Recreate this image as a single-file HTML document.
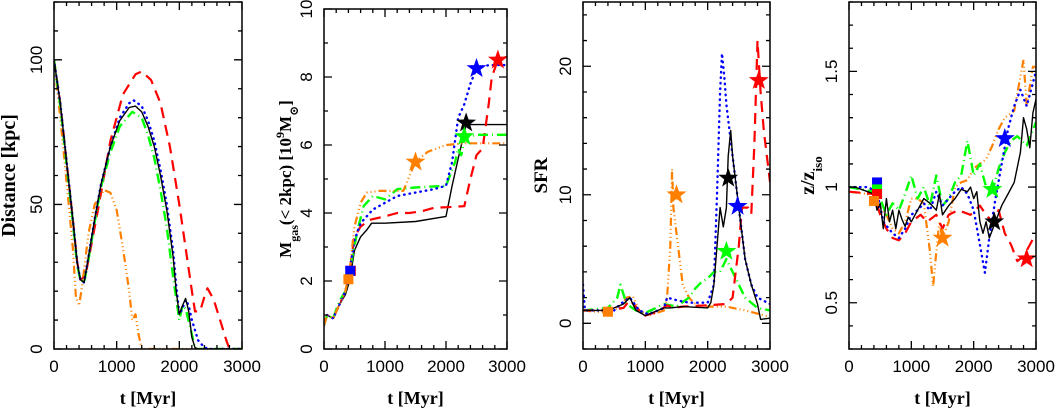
<!DOCTYPE html>
<html><head><meta charset="utf-8">
<style>
html,body{margin:0;padding:0;background:#fff;}
svg{display:block;}
text{font-family:"Liberation Serif","DejaVu Serif",serif;fill:#000;}
text.tk{font-family:"Liberation Sans","DejaVu Sans",sans-serif;}
</style></head>
<body>
<svg id="fig" width="1057" height="413" viewBox="0 0 1057 413" xmlns="http://www.w3.org/2000/svg"></svg>
<script>
// ---------- data ----------
const p1_black_t=[0,100,200,300,370,420,480,550,650,750,900,1050,1200,1300,1400,1500,1600,1700,1800,1900,1950,2000,2050,2100,2150,2200,2250,2300,3000];
const p1_black_y=[100,85,65,45,30,24,23,32,45,57,70,79,83.5,84,82,77,70,60,48,32,20,12,15,17.5,13,4,0.5,0,0];
const p1_blue_t=[0,100,200,300,370,420,480,550,650,750,900,1050,1200,1270,1400,1500,1600,1700,1800,1900,1950,2000,2050,2100,2150,2200,2300,2400,2500,3000];
const p1_blue_y=[100,85,65,45,30,24,23,32,45,57,70,80,85,86,84,79,72,62,50,34,22,12,14,17,15,10,3,0.5,0,0];
const p1_green_t=[0,100,200,300,370,420,480,550,650,750,900,1050,1250,1400,1500,1600,1700,1800,1900,2000,2050,2100,2200,2250,3000];
const p1_green_y=[100,84,64,44,29,24,23,31,44,56,68,77,82,80,74,66,55,42,25,10,15,14,5,0,0];
const p1_red_t=[0,100,200,300,370,420,500,700,900,1100,1300,1400,1550,1700,1850,2000,2100,2200,2250,2330,2400,2450,2550,2650,2750,2800,3000];
const p1_red_y=[100,85,65,45,30,24,25,48,72,88,95,96,93,85,70,50,35,20,13,13,18,21,17,10,3,0,0];
const p1_orange_t=[0,100,200,300,350,400,450,550,650,800,900,1000,1100,1200,1250,1300,1350,1400,3000];
const p1_orange_y=[100,80,58,35,18,15,22,40,50,55,54,48,35,20,10,12,5,0,0];
const p2_black_t=[0,50,150,250,350,420,500,600,700,780,1000,1500,2000,2100,2200,2330,3000];
const p2_black_y=[0.7,1.0,0.9,1.3,1.6,2.0,2.9,3.3,3.5,3.7,3.7,3.75,3.9,4.8,5.6,6.6,6.6];
const p2_red_t=[0,50,150,250,350,420,500,600,750,1000,1200,1400,1600,1800,2300,2400,2500,2600,2700,2750,2850,3000];
const p2_red_y=[0.7,1.0,0.9,1.3,1.7,2.3,3.3,3.6,3.8,3.9,4.0,4.0,4.05,4.15,4.2,5.0,5.7,5.9,7.2,8.0,8.5,8.6];
const p2_blue_t=[0,50,150,250,350,420,500,600,800,1000,1200,1500,1800,2000,2100,2200,2300,2400,2500,2700,3000];
const p2_blue_y=[0.7,1.0,0.9,1.3,1.7,2.3,3.2,3.7,4.1,4.3,4.5,4.6,4.7,4.8,5.5,6.8,7.2,7.8,8.25,8.35,8.35];
const p2_green_t=[0,50,150,250,350,420,550,650,800,1000,1200,1500,2000,2150,2200,2250,2300,2500,3000];
const p2_green_y=[0.7,1.0,0.9,1.4,1.7,2.3,3.5,4.2,4.5,4.4,4.7,4.75,4.8,5.5,5.9,5.7,6.2,6.3,6.3];
const p2_orange_t=[0,50,150,250,350,420,500,600,700,900,1300,1450,1500,1700,2000,2300,3000];
const p2_orange_y=[0.7,1.0,0.9,1.3,1.7,2.3,3.6,4.3,4.6,4.65,4.65,5.3,5.5,5.8,6.0,6.05,6.05];
const p3_black_t=[0,400,500,650,750,850,1000,1100,1300,1400,1600,2000,2050,2100,2150,2200,2250,2300,2330,2370,2400,2500,2600,2700,2800,2850,3000];
const p3_black_y=[1,1,1.2,1.5,2,1,0.6,0.8,1.2,1.2,1.3,1.2,1.6,3,6,9,7.5,9,13,15,13,9,5,3,1.5,0.3,0.4];
const p3_blue_t=[0,30,400,500,600,750,900,1050,1300,1350,1500,1700,2000,2100,2150,2200,2230,2270,2300,2400,2500,2600,2700,2800,3000];
const p3_blue_y=[3,1,1,1,1.5,2,1,0.7,1.2,2,1.8,1.6,1.6,3,10,18,21,19,17,13,9,5,3,2,1.5];
const p3_red_t=[0,400,650,750,900,1000,1200,1350,1450,1600,2000,2300,2400,2500,2550,2650,2700,2750,2800,2850,2900,3000];
const p3_red_y=[1,1,1.2,1.8,1,0.6,0.9,1.4,1.2,1.3,1.4,1.5,2,6,9,9,8.5,14,22,18,15,11];
const p3_green_t=[0,400,550,600,700,850,1000,1300,1500,1700,1800,1900,2000,2100,2200,2300,2400,2500,2600,2800,3000];
const p3_green_y=[1,1.2,2,3,1.5,1,0.8,1.5,1.3,2,2.7,3.2,3.5,4,4,5,4,3,2,1.2,1];
const p3_orange_t=[0,400,600,700,800,900,1050,1300,1350,1400,1430,1450,1500,1600,1700,1800,2000,2300,2600,3000];
const p3_orange_y=[1,0.8,1.3,2,2.1,1,0.6,1,2,6,12,9,7,3,2,1.5,1.3,1.3,1,0.5];
const p4_black_t=[0,100,300,400,450,500,550,600,650,700,750,800,850,900,950,1000,1100,1200,1300,1400,1450,1500,1600,1700,1800,1900,1950,2000,2050,2100,2150,2200,2250,2350,2450,2550,2650,2750,2800,2850,2900,2950,3000];
const p4_black_y=[1,1,0.98,0.97,0.9,0.93,0.82,0.95,0.85,0.9,0.82,0.9,0.86,0.83,0.87,0.85,0.9,0.95,0.93,0.9,0.97,0.88,0.92,0.95,0.99,0.98,1.0,0.95,0.98,0.85,0.8,0.85,0.78,0.85,0.92,0.97,1.02,1.15,1.3,1.25,1.17,1.32,1.38];
const p4_blue_t=[0,300,450,550,700,800,900,1000,1100,1200,1300,1400,1500,1600,1700,1800,1900,2000,2100,2180,2250,2350,2450,2550,2650,2750,2850,2950,3000];
const p4_blue_y=[1,1,0.98,0.85,0.8,0.78,0.82,0.88,0.9,0.93,0.9,0.98,0.92,0.95,0.98,1.0,0.97,0.9,0.75,0.63,0.78,0.95,1.1,1.25,1.35,1.42,1.35,1.45,1.5];
const p4_red_t=[0,400,500,600,700,800,900,1000,1150,1250,1400,1500,1600,1750,1950,2100,2200,2300,2400,2500,2600,2700,2800,2900,3000];
const p4_red_y=[0.98,0.97,0.88,0.82,0.78,0.77,0.8,0.85,0.88,0.85,0.88,0.82,0.88,0.9,0.88,0.92,0.88,0.85,0.9,0.8,0.75,0.68,0.7,0.75,0.8];
const p4_green_t=[0,400,500,600,700,800,900,1000,1100,1200,1300,1400,1500,1600,1700,1800,1900,2000,2100,2200,2300,2400,2500,2600,2700,2850,3000];
const p4_green_y=[1,0.98,0.95,0.88,0.93,0.9,0.97,1.05,0.95,1.0,0.92,1.05,0.92,0.95,1.02,1.05,1.2,1.05,1.1,1.0,0.98,1.08,1.15,1.2,1.22,1.18,1.28];
const p4_orange_t=[0,300,450,600,700,800,900,1000,1100,1200,1300,1350,1400,1450,1500,1600,1700,1800,1900,2000,2100,2200,2300,2400,2500,2650,2800,2850,2950,3000];
const p4_orange_y=[0.98,0.97,0.93,0.88,0.82,0.8,0.85,0.95,0.95,0.93,0.72,0.57,0.72,0.85,0.78,0.85,1.0,1.02,1.03,1.08,1.1,1.12,1.18,1.25,1.3,1.33,1.55,1.35,1.52,1.52];
const p2_stars_t=[1500,2500,2330,2300,2850];
const p2_stars_y=[5.5,8.25,6.65,6.25,8.5];
const p2_sq_t=[440,430,400];
const p2_sq_y=[2.3,2.3,2.05];
const p3_stars_t=[1500,2330,2480,2300,2820];
const p3_stars_y=[10,11.3,9.1,5.6,18.9];
const p3_sq_t=[400];
const p3_sq_y=[0.9];
const p4_stars_t=[2500,2300,2330,1500,2850];
const p4_stars_y=[1.21,0.99,0.85,0.78,0.69];
const p4_sq_t=[450,450,450,400];
const p4_sq_y=[1.02,0.99,0.97,0.94];
const xTicks=[0,1000,2000,3000];
const xTickLabels=["0","1000","2000","3000"];
const p1_yTicks=[0,50,100]; const p1_yLabels=["0","50","100"];
const p2_yTicks=[0,2,4,6,8,10]; const p2_yLabels=["0","2","4","6","8","10"];
const p3_yTicks=[0,10,20]; const p3_yLabels=["0","10","20"];
const p4_yTicks=[0.5,1,1.5]; const p4_yLabels=["0.5","1","1.5"];

const NS="http://www.w3.org/2000/svg";
const svg=document.getElementById('fig');
function mk(tag,attrs,parent){const e=document.createElementNS(NS,tag);for(const k in attrs)e.setAttribute(k,attrs[k]);(parent||svg).appendChild(e);return e;}
const STY={
 black:{c:"#000",w:1.4,d:""},
 red:{c:"#ff0000",w:2.2,d:"11,7"},
 blue:{c:"#0000ff",w:2.4,d:"0.5,5"},
 green:{c:"#00ff00",w:2.4,d:"10,4,1,4"},
 orange:{c:"#ff8000",w:2.2,d:"8,3,1,3,1,3,1,3"}
};
const COLS={black:"#000",red:"#ff0000",blue:"#0000ff",green:"#00ff00",orange:"#ff8000"};

function panel(P){
  const g=mk('g',{});
  
  
  const sx=v=>P.x0+(v-0)/3000*(P.x1-P.x0);
  const sy=v=>P.yb-(v-P.ymin)/(P.ymax-P.ymin)*(P.yb-P.yt);
  const clip='clip-'+P.name;
  const cp=mk('clipPath',{id:clip},g);
  mk('rect',{x:P.x0,y:P.yt,width:P.x1-P.x0,height:P.yb-P.yt},cp);
  const lg=mk('g',{'clip-path':'url(#'+clip+')'},g);
  for(const s of P.series){
    const st=STY[s.col];
    let d="";
    for(let i=0;i<s.t.length;i++)d+=(i?"L":"M")+sx(s.t[i]).toFixed(1)+","+sy(s.y[i]).toFixed(1);
    const p=mk('path',{d:d,fill:"none",stroke:st.c,'stroke-width':st.w,'stroke-dasharray':st.d,'stroke-linecap':s.col==='blue'?'round':'butt','stroke-linejoin':'round'},lg);
    
    
  }
  if(P.sqT){for(let i=0;i<P.sqT.length;i++){
    const r=mk('rect',{x:sx(P.sqT[i])-5,y:sy(P.sqY[i])-5,width:10,height:10,fill:COLS[P.sqC[i]]},g);
    
    
  }}
  if(P.stT){for(let i=0;i<P.stT.length;i++){
    const cx=sx(P.stT[i]),cy=sy(P.stY[i]);let d="";
    for(let k=0;k<10;k++){const r=k%2?4.2:10.5;const a=-Math.PI/2+k*Math.PI/5;d+=(k?"L":"M")+(cx+r*Math.cos(a)).toFixed(1)+","+(cy+r*Math.sin(a)).toFixed(1);}
    const s=mk('path',{d:d+"Z",fill:COLS[P.stC[i]]},g);
    
    
  }}
  const fr=mk('rect',{x:P.x0,y:P.yt,width:P.x1-P.x0,height:P.yb-P.yt,fill:"none",stroke:"#000",'stroke-width':1.5},g);
  
  
  let td="";
  for(let v=0;v<=3000;v+=200){const X=sx(v);const L=(v%1000===0)?8:4;td+=`M${X},${P.yb}v${-L}M${X},${P.yt}v${L}`;}
  const nMin=Math.round((P.ymax-P.ymin)/P.ystep);
  for(let k=0;k<=nMin+1;k++){const v=Math.round((Math.ceil(P.ymin/P.ystep-1e-9)*P.ystep+k*P.ystep)*1000)/1000;if(v>P.ymax+1e-9)break;const Y=sy(v);
    const maj=P.yTicks.some(t=>Math.abs(t-v)<1e-6);const L=maj?8:4;td+=`M${P.x0},${Y}h${L}M${P.x1},${Y}h${-L}`;}
  mk('path',{d:td,stroke:"#000",'stroke-width':1.3,fill:"none"},g);
  for(let i=0;i<xTicks.length;i++){
    const t=mk('text',{x:sx(xTicks[i]),y:P.yb+23,'text-anchor':'middle','font-size':17,'class':'tk'},g);
    t.textContent=xTickLabels[i];
    
    
  }
  for(let i=0;i<P.yTicks.length;i++){
    const Y=sy(P.yTicks[i]);const X=P.x0-12;
    const t=mk('text',{x:X,y:Y,'text-anchor':'middle','font-size':17,'class':'tk',transform:`rotate(-90 ${X} ${Y})`},g);
    t.textContent=P.yLabels[i];
    
    
  }
  const xt=mk('text',{x:(P.x0+P.x1)/2,y:404,'text-anchor':'middle','font-size':18,'font-weight':'bold'},g);
  xt.textContent="t [Myr]";
  
  
  const yx=P.titleX, yy=P.titleY||(P.yt+P.yb)/2;
  const yt=mk('text',{x:yx,y:yy,'text-anchor':'middle','font-size':P.titleSize||19,'font-weight':'bold',transform:`rotate(-90 ${yx} ${yy})`},g);
  yt.innerHTML=P.title;
  
  
}
function S(col,t,y){return {col:col,t:t,y:y};}
panel({name:'distance-panel',x0:54,x1:242,yt:2,yb:349,ymin:0,ymax:120,ystep:10,yTicks:p1_yTicks,yLabels:p1_yLabels,titleX:15,titleSize:20,title:'Distance [kpc]',
  series:[S('orange',p1_orange_t,p1_orange_y),S('red',p1_red_t,p1_red_y),S('green',p1_green_t,p1_green_y),S('blue',p1_blue_t,p1_blue_y),S('black',p1_black_t,p1_black_y)]});
panel({name:'gas-mass-panel',x0:324,x1:507,yt:9,yb:349,ymin:0,ymax:10,ystep:1,yTicks:p2_yTicks,yLabels:p2_yLabels,titleX:291,titleSize:17,
  title:'M<tspan baseline-shift="sub" font-size="12">gas</tspan>(&lt; 2kpc) [10<tspan baseline-shift="super" font-size="12">9</tspan>M<tspan baseline-shift="sub" font-size="12">⊙</tspan>]',
  series:[S('black',p2_black_t,p2_black_y),S('red',p2_red_t,p2_red_y),S('green',p2_green_t,p2_green_y),S('blue',p2_blue_t,p2_blue_y),S('orange',p2_orange_t,p2_orange_y)],
  stT:p2_stars_t,stY:p2_stars_y,stC:['orange','blue','black','green','red'],sqT:p2_sq_t,sqY:p2_sq_y,sqC:['red','blue','orange']});
panel({name:'sfr-panel',x0:583,x1:770,yt:2,yb:349,ymin:-2,ymax:25,ystep:2,yTicks:p3_yTicks,yLabels:p3_yLabels,titleX:547,title:'SFR',
  series:[S('orange',p3_orange_t,p3_orange_y),S('green',p3_green_t,p3_green_y),S('red',p3_red_t,p3_red_y),S('blue',p3_blue_t,p3_blue_y),S('black',p3_black_t,p3_black_y)],
  stT:p3_stars_t,stY:p3_stars_y,stC:['orange','black','blue','green','red'],sqT:p3_sq_t,sqY:p3_sq_y,sqC:['orange']});
panel({name:'z-ratio-panel',x0:849,x1:1036,yt:2,yb:349,ymin:0.3,ymax:1.8,ystep:0.1,yTicks:p4_yTicks,yLabels:p4_yLabels,titleX:814,titleSize:20,
  title:'z/z<tspan baseline-shift="sub" font-size="13">iso</tspan>',
  series:[S('orange',p4_orange_t,p4_orange_y),S('green',p4_green_t,p4_green_y),S('red',p4_red_t,p4_red_y),S('blue',p4_blue_t,p4_blue_y),S('black',p4_black_t,p4_black_y)],
  stT:p4_stars_t,stY:p4_stars_y,stC:['blue','green','black','orange','red'],sqT:p4_sq_t,sqY:p4_sq_y,sqC:['blue','green','red','orange']});
</script>
</body></html>
